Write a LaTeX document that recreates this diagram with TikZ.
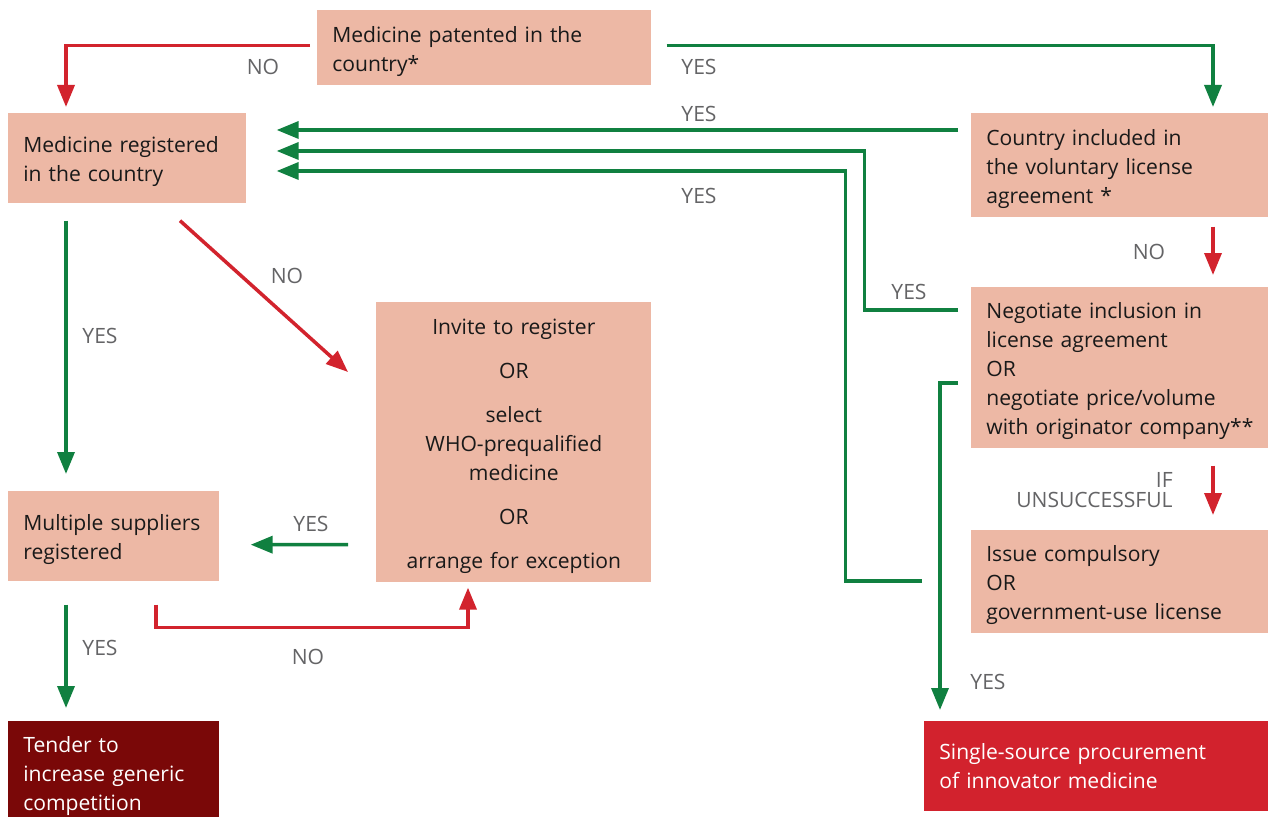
\documentclass[tikz,border=0pt]{standalone}
\usepackage{fontspec}
\setmainfont{Open Sans}
\usepackage{tikz}
\usetikzlibrary{positioning}
\usetikzlibrary{arrows.meta,calc}
\usepackage{xcolor}
\definecolor{boxfill}{RGB}{237,184,165}
\definecolor{darkred}{RGB}{122,8,8}
\definecolor{brightred}{RGB}{210,34,45}
\definecolor{yesgreen}{RGB}{16,128,64}
\definecolor{nored}{RGB}{210,35,45}
\definecolor{lblgray}{RGB}{100,100,102}
\tikzset{
  basic/.style  = {rectangle, inner xsep=0.3cm, inner ysep=0pt, anchor=north west,
                   font=\fontsize{12}{16.5}\selectfont},
  box/.style    = {basic, fill=boxfill, text=black!90, align=left,
                   execute at begin node=\rule{0pt}{13pt}},
%  centre/.style = {basic, fill=boxfill, align=center},
  endbox/.style = {basic, text=white, align=left},
  lbl/.style    = {font=\fontsize{12}{16.5}\selectfont, text=lblgray, inner sep=0pt},
  conn/.style   = {line width=2pt, -{Triangle[width=0.34cm,length=0.44cm]}},
  yes/.style    = {conn, yesgreen},
  no/.style     = {conn, nored}
}

\begin{document}
\begin{tikzpicture}[x=0.02cm, y=-0.02cm]
\useasboundingbox (0,0) rectangle (1269,817);

\node[box, minimum width=6.68cm, minimum height=1.5cm, text width=6.08cm] (patent) at (317,10)
  {Medicine patented in the\\country*};
\node[box, minimum width=4.76cm, minimum height=1.8cm, text width=4.16cm] (reg) at (8,113)
  {Medicine registered\\in the country};
\node[box, minimum width=5.94cm, minimum height=2.08cm, text width=5.34cm] (vla) at (971,113)
  {Country included in\\the voluntary license\\agreement *};
\node[box, minimum width=5.94cm, minimum height=3.22cm, text width=5.34cm] (neg) at (971,287)
  {Negotiate inclusion in\\license agreement\\OR\\negotiate price/volume\\\mbox{with originator company**}};
\node[box, minimum width=5.94cm, minimum height=2.06cm, text width=5.34cm] (comp) at (971,530)
  {Issue compulsory\\OR\\government-use license};
\node[box, align=center, minimum width=5.5cm, minimum height=5.6cm, text width=4.9cm] (invite) at (376,302)
  {Invite to register\\[8.5pt]OR\\[8.5pt]select\\WHO-prequalified\\medicine\\[8.5pt]OR\\[8.5pt]arrange for exception};
\node[box, minimum width=4.22cm, minimum height=1.8cm, text width=3.62cm] (multi) at (8,491)
  {Multiple suppliers\\registered};
\node[endbox, fill=darkred, minimum width=4.22cm, minimum height=2.2cm, text width=3.62cm] (tender) at (8,721)
  {Tender to\\increase generic\\competition};
\node[endbox, fill=brightred, minimum width=6.88cm, minimum height=1.8cm, text width=6.28cm] (single) at (924,721)
  {Single-source procurement\\of innovator medicine};

\path [draw, no] ($(patent.west)+(-7,-2.5)$) -| ($(reg.north west)+(58,-6)$);
\path [draw, yes] ($(patent.east)+(15,-2.5)$) -| ($(vla.north west)+(242,-6)$);

\path [draw, yes] ($(vla.north west)+(-13,17)$) -- ($(reg.north east)+(30,17)$);
\path [draw, yes] ($(neg.north west)+(-13,23)$) -| ($(reg.north east)+(618,38)$) -- ($(reg.north east)+(30,38)$);
\path [draw, yes] ($(comp.north west)+(-49,51)$) -| ($(reg.north east)+(599,58)$) -- ($(reg.north east)+(30,58)$);

\path [draw, no] ($(vla.south west)+(242,9)$) -- ($(neg.north west)+(242,-12)$);
\path [draw, no] ($(neg.south west)+(242,17)$) -- ($(comp.north west)+(242,-15)$);
\path [draw, yes] ($(neg.north west)+(-13,96)$) -| ($(single.north west)+(16,-11)$);

\path [draw, no] ($(reg.south west)+(172,17)$) -- ($(invite.north west)+(-28,70)$);
\path [draw, yes] ($(reg.south west)+(58,17)$) -- ($(multi.north west)+(58,-17)$);
\path [draw, yes] ($(invite.south west)+(-28,-38)$) -- ($(multi.south east)+(31,-37)$);
\path [draw, yes] ($(multi.south west)+(58,23)$) -- ($(tender.north west)+(58,-13)$);
\path [draw, no] ($(multi.south west)+(148,23)$) -- ($(multi.south west)+(148,46)$) -| ($(invite.south west)+(92,5)$);

\node[lbl] (l1) at (263,67) {NO};
\node[lbl] (l2) at (699,67) {YES};
\node[lbl] (l3) at (699,114) {YES};
\node[lbl] (l4) at (699,196) {YES};
\node[lbl] (l5) at (909,292) {YES};
\node[lbl] (l6) at (1149,252) {NO};
\node[lbl, anchor=east, align=right, font=\fontsize{12}{11.3}\selectfont] (l7) at (1173,490) {IF\\UNSUCCESSFUL};
\node[lbl] (l8) at (988,682) {YES};
\node[lbl] (l9) at (287,276) {NO};
\node[lbl] (l10) at (100,336) {YES};
\node[lbl] (l11) at (311,524) {YES};
\node[lbl] (l12) at (100,648) {YES};
\node[lbl] (l13) at (308,657) {NO};

\end{tikzpicture}
\end{document}
